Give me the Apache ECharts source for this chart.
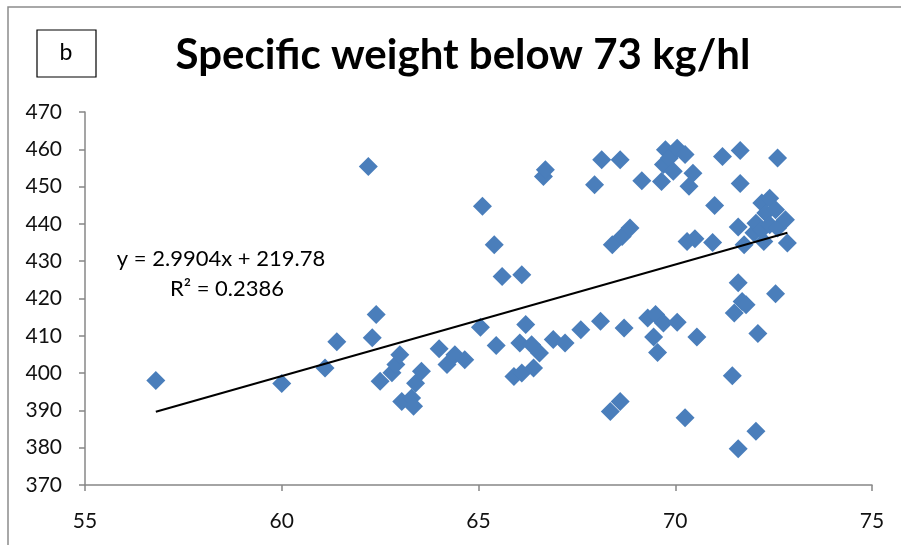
<!DOCTYPE html>
<html>
<head>
<meta charset="utf-8">
<script src="https://cdn.jsdelivr.net/npm/echarts@6/dist/echarts.min.js"></script>
<style>
  html, body { margin: 0; padding: 0; background: #fff; }
  #chart { width: 901px; height: 545px; }
</style>
</head>
<body>
<div id="chart"></div>
<script>
// Specific weight (kg/hl) against a second trait, samples below 73 kg/hl
const specificWeight = [
  56.8, 60.0, 61.1, 61.4, 62.2, 62.3, 62.4, 62.5, 62.8, 62.9,
  63.0, 63.05, 63.3, 63.35, 63.4, 63.55, 64.0, 64.2, 64.4, 64.65,
  65.05, 65.1, 65.4, 65.45, 65.6, 65.9, 66.05, 66.1, 66.1, 66.2,
  66.35, 66.4, 66.55, 66.65, 66.7, 66.9, 67.2, 67.6, 67.95, 68.1,
  68.13, 68.35, 68.4, 68.6, 68.6, 68.65, 68.7, 68.85, 69.15, 69.3,
  69.45, 69.5, 69.55, 69.65, 69.7, 69.7, 69.75, 69.85, 69.95, 70.05,
  70.05, 70.25, 70.25, 70.3, 70.35, 70.45, 70.5, 70.55, 70.95, 71.0,
  71.2, 71.45, 71.5, 71.6, 71.6, 71.6, 71.65, 71.65, 71.7, 71.75,
  71.8, 72.0, 72.05, 72.05, 72.1, 72.2, 72.2, 72.25, 72.3, 72.4,
  72.4, 72.55, 72.55, 72.6, 72.6, 72.8, 72.85
];
const secondTrait = [
  398.0, 397.2, 401.4, 408.4, 455.4, 409.5, 415.7, 397.8, 400.1, 402.3,
  404.9, 392.4, 393.3, 391.1, 397.3, 400.5, 406.5, 402.3, 404.9, 403.6,
  412.3, 444.7, 434.4, 407.4, 425.9, 399.1, 408.1, 426.4, 400.0, 413.0,
  407.6, 401.4, 405.4, 452.7, 454.5, 409.0, 408.1, 411.6, 450.5, 413.9,
  457.2, 389.7, 434.4, 392.4, 457.2, 436.6, 412.1, 438.9, 451.6, 414.8,
  409.7, 415.7, 405.5, 451.4, 455.9, 413.4, 459.9, 457.7, 454.1, 460.3,
  413.6, 458.6, 388.0, 435.3, 450.1, 453.6, 436.0, 409.7, 435.0, 444.9,
  458.1, 399.3, 416.1, 439.2, 424.2, 379.7, 459.7, 450.8, 419.2, 434.4,
  418.3, 437.6, 440.2, 384.4, 410.6, 445.6, 438.4, 435.3, 442.9, 446.9,
  439.8, 443.8, 421.3, 457.7, 438.9, 441.1, 434.9
];

// Linear trend as reported in the equation label
const slope = 2.9904;
const intercept = 219.78;
const rSquared = 0.2386;

const xTicks = [55, 60, 65, 70, 75];
const yTicks = [370, 380, 390, 400, 410, 420, 430, 440, 450, 460, 470];

const points = specificWeight.map((x, i) => [x, secondTrait[i]]);
const xMin = Math.min(...specificWeight);
const xMax = Math.max(...specificWeight);
const trend = [[xMin, slope * xMin + intercept], [xMax, slope * xMax + intercept]];

const FONT = 'Lato, Carlito, "Open Sans", sans-serif';
const axisGrey = '#878787';

const chart = echarts.init(document.getElementById('chart'), null, { renderer: 'canvas' });
chart.setOption({
  animation: false,
  backgroundColor: '#ffffff',
  grid: { left: 85, right: 29, top: 112, bottom: 60, containLabel: false },
  xAxis: {
    type: 'value',
    min: xTicks[0], max: xTicks[xTicks.length - 1], interval: 5,
    axisLine: { show: true, lineStyle: { color: axisGrey, width: 1.5 } },
    axisTick: { show: true, inside: false, length: 6, lineStyle: { color: axisGrey, width: 1.5 } },
    axisLabel: { color: '#111', fontFamily: FONT, fontSize: 21, margin: 26 },
    splitLine: { show: false }
  },
  yAxis: {
    type: 'value',
    min: yTicks[0], max: yTicks[yTicks.length - 1], interval: 10,
    axisLine: { show: true, lineStyle: { color: axisGrey, width: 1.5 } },
    axisTick: { show: true, inside: false, length: 6, lineStyle: { color: axisGrey, width: 1.5 } },
    axisLabel: { color: '#111', fontFamily: FONT, fontSize: 21, margin: 23 },
    splitLine: { show: false }
  },
  series: [
    {
      type: 'scatter',
      data: points,
      symbol: 'diamond',
      symbolSize: 19,
      itemStyle: { color: '#4A7EBB', opacity: 1 },
      z: 2
    },
    {
      type: 'line',
      data: trend,
      showSymbol: false,
      lineStyle: { color: '#000', width: 2 },
      z: 3
    }
  ],
  graphic: [
    // outer chart frame
    { type: 'rect', x: 8, y: 7, shape: { width: 1000, height: 1000 },
      style: { fill: 'none', stroke: '#8c8c8c', lineWidth: 1.5 }, silent: true },
    // panel letter box
    { type: 'rect', x: 37, y: 30, shape: { width: 59, height: 47 },
      style: { fill: '#fff', stroke: '#000', lineWidth: 1.2 } },
    { type: 'text', x: 66, y: 53,
      style: { text: 'b', fontFamily: FONT, fontSize: 23, fill: '#000', align: 'center', verticalAlign: 'middle' } },
    // title
    { type: 'text', x: 463, y: 55,
      style: { text: 'Specific weight below 73 kg/hl', fontFamily: FONT, fontWeight: 'bold', fontSize: 42, fill: '#000', align: 'center', verticalAlign: 'middle' } },
    // trendline equation
    { type: 'text', x: 221, y: 259,
      style: { text: 'y = ' + slope.toFixed(4) + 'x + ' + intercept.toFixed(2), fontFamily: FONT, fontSize: 22, fill: '#000', align: 'center', verticalAlign: 'middle' } },
    { type: 'text', x: 227, y: 289,
      style: { text: 'R² = ' + rSquared.toFixed(4), fontFamily: FONT, fontSize: 22, fill: '#000', align: 'center', verticalAlign: 'middle' } }
  ]
});
</script>
</body>
</html>
